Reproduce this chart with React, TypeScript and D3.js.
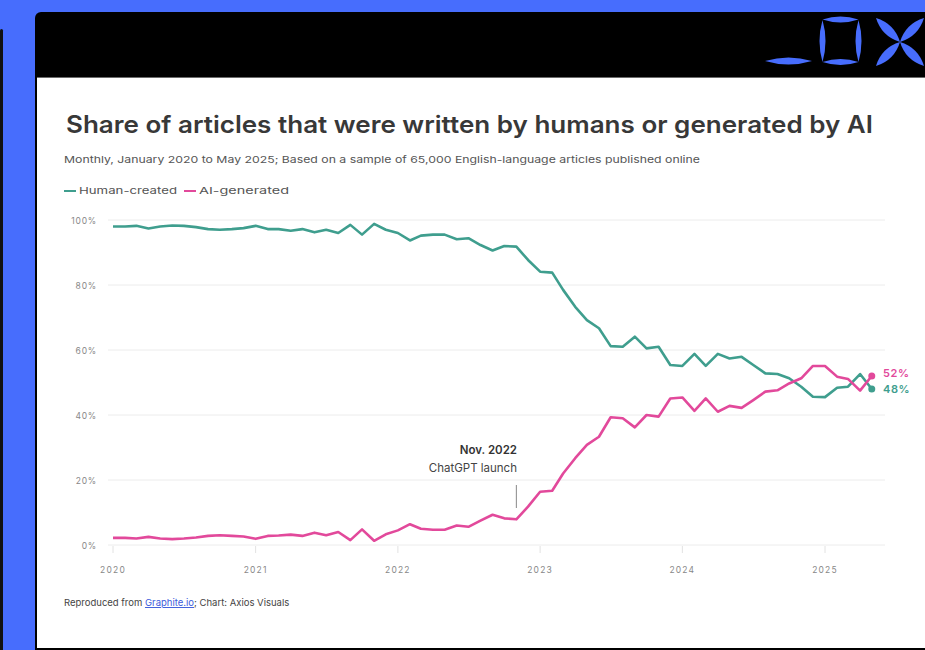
import React from "react";
import * as d3 from "d3";

// ---- Data ----
const startYear = 2020; // monthly series, January 2020 .. May 2025
const humanShare: number[] = [
  98.0, 98.0, 98.2, 97.4, 98.0, 98.3, 98.2, 97.8, 97.2, 97.0,
  97.2, 97.5, 98.2, 97.2, 97.2, 96.7, 97.2, 96.2, 97.0, 96.0,
  98.5, 95.5, 98.8, 97.0, 96.0, 93.7, 95.2, 95.5, 95.5, 94.1,
  94.4, 92.3, 90.6, 92.0, 91.8, 87.7, 84.1, 83.8, 78.5, 73.3,
  69.2, 66.7, 61.2, 61.0, 64.1, 60.5, 61.0, 55.4, 55.1, 58.8,
  55.1, 58.8, 57.4, 57.9, 55.4, 52.8, 52.6, 51.3, 48.7, 45.6,
  45.5, 48.4, 48.7, 52.6, 48.0,
];
const aiShare: number[] = [
  2.2, 2.2, 2.0, 2.5, 2.0, 1.8, 2.0, 2.3, 2.8, 3.0,
  2.8, 2.6, 1.9, 2.8, 2.9, 3.2, 2.8, 3.8, 3.0, 4.0,
  1.5, 4.8, 1.3, 3.3, 4.5, 6.4, 5.0, 4.7, 4.7, 6.0,
  5.6, 7.5, 9.3, 8.2, 7.9, 11.8, 16.4, 16.7, 22.0, 26.7,
  30.8, 33.3, 39.3, 39.0, 36.2, 40.0, 39.5, 45.1, 45.4, 41.3,
  45.1, 41.0, 42.8, 42.2, 44.6, 47.2, 47.6, 49.7, 51.3, 55.1,
  55.1, 51.8, 51.1, 47.5, 52.0,
];
const yTicks = [0, 20, 40, 60, 80, 100];
const yearTicks = [2020, 2021, 2022, 2023, 2024, 2025];
const seriesNames = ["Human-created", "AI-generated"];
const endLabels = ["48%", "52%"];
const annotationMonth = { year: 2022, month: 10 };
const annotationLines = ["Nov. 2022", "ChatGPT launch"];

const TEAL = "#3f9e8e";
const PINK = "#e2499b";
const BLUE = "#476dfd";
const FONT = "Inter, 'Open Sans', sans-serif";

function lens(key: string, cx: number, cy: number, len: number, thick: number, angle: number) {
  const h = len / 2;
  return (
    <path
      key={key}
      d={`M${-h},0 Q0,${-thick} ${h},0 Q0,${thick} ${-h},0 Z`}
      transform={`translate(${cx},${cy}) rotate(${angle})`}
      fill={BLUE}
    />
  );
}

export default function App() {
  const dates = humanShare.map((_, i) => new Date(startYear, i, 1));
  const x = d3
    .scaleTime()
    .domain([new Date(2020, 0, 1), new Date(2025, 0, 1)])
    .range([113, 825]);
  const y = d3.scaleLinear().domain([0, 100]).range([545, 220]);
  const line = d3
    .line<number>()
    .x((_, i) => x(dates[i]))
    .y((d) => y(d))
    .curve(d3.curveLinear);

  const last = dates.length - 1;
  const lx = x(dates[last]);
  const annX = x(new Date(annotationMonth.year, annotationMonth.month, 1));

  // X glyph petals: from center to each corner
  const xc = { x: 900, y: 42 };
  const corners = [
    [876, 18],
    [924, 18],
    [876, 66],
    [924, 66],
  ];

  return (
    <svg
      width={925}
      height={650}
      style={{ position: "absolute", left: 0, top: 0, display: "block" }}
    >
      <rect x={0} y={0} width={925} height={650} fill={BLUE} />
      <rect x={0} y={29} width={3} height={640} rx={1.5} fill="#111" />
      {/* card */}
      <rect x={35} y={12} width={920} height={660} rx={6} fill="#000" />
      <rect x={37} y={78} width={900} height={570} fill="#fff" />
      <line x1={37} x2={925} y1={77.5} y2={77.5} stroke="#6b6b6b" strokeWidth={1} />

      {/* window controls logo */}
      {lens("u", 788.5, 61, 47, 7, 0)}
      {lens("bt", 840.5, 19.5, 36, 6, 0)}
      {lens("bb", 840.5, 62, 36, 6, 0)}
      {lens("bl", 822.5, 41, 42, 6, 90)}
      {lens("br", 858.5, 41, 42, 6, 90)}
      {corners.map(([cx, cy], i) => {
        const mx = (cx + xc.x) / 2;
        const my = (cy + xc.y) / 2;
        const len = Math.hypot(cx - xc.x, cy - xc.y);
        const ang = (Math.atan2(cy - xc.y, cx - xc.x) * 180) / Math.PI;
        return lens("x" + i, mx, my, len, 9, ang);
      })}

      {/* title */}
      <text
        x={66}
        y={133}
        fontFamily={FONT}
        fontSize={24}
        fontWeight={600}
        fill="#383838"
        textLength={807}
        lengthAdjust="spacingAndGlyphs"
      >
        Share of articles that were written by humans or generated by AI
      </text>
      <text
        x={64}
        y={163}
        fontFamily={FONT}
        fontSize={9.5}
        fill="#555"
        textLength={636}
        lengthAdjust="spacingAndGlyphs"
      >
        Monthly, January 2020 to May 2025; Based on a sample of 65,000 English-language articles published online
      </text>

      {/* legend */}
      <line x1={64} x2={76} y1={191} y2={191} stroke={TEAL} strokeWidth={2} />
      <text x={79} y={194} fontFamily={FONT} fontSize={9.5} fill="#555" textLength={98} lengthAdjust="spacingAndGlyphs">
        {seriesNames[0]}
      </text>
      <line x1={184} x2={196} y1={191} y2={191} stroke={PINK} strokeWidth={2} />
      <text x={199} y={194} fontFamily={FONT} fontSize={9.5} fill="#555" textLength={90} lengthAdjust="spacingAndGlyphs">
        {seriesNames[1]}
      </text>

      {/* grid + y labels */}
      {yTicks.map((t) => (
        <g key={t}>
          <line x1={108} x2={885} y1={y(t)} y2={y(t)} stroke="#ececec" strokeWidth={1} />
          <text
            x={97}
            y={y(t) + 3.5}
            textAnchor="end"
            fontFamily={FONT}
            fontSize={8.5}
            letterSpacing={0.8}
            fill="#888"
          >
            {t}%
          </text>
        </g>
      ))}

      {/* x ticks + labels */}
      {yearTicks.map((yr) => {
        const px = x(new Date(yr, 0, 1));
        return (
          <g key={yr}>
            <line x1={px} x2={px} y1={546} y2={553} stroke="#e2e2e2" strokeWidth={1} />
            <text
              x={px}
              y={573}
              textAnchor="middle"
              fontFamily={FONT}
              fontSize={8.5}
              letterSpacing={1.2}
              fill="#888"
            >
              {yr}
            </text>
          </g>
        );
      })}

      {/* annotation */}
      <text x={517} y={454} textAnchor="end" fontFamily={FONT} fontSize={11.5} fontWeight={600} fill="#333">
        {annotationLines[0]}
      </text>
      <text x={517} y={472} textAnchor="end" fontFamily={FONT} fontSize={11.5} fill="#444">
        {annotationLines[1]}
      </text>
      <line x1={annX} x2={annX} y1={485} y2={508} stroke="#888" strokeWidth={1} />

      {/* lines */}
      <path d={line(humanShare) || ""} fill="none" stroke={TEAL} strokeWidth={2.6} strokeLinejoin="round" />
      <path d={line(aiShare) || ""} fill="none" stroke={PINK} strokeWidth={2.6} strokeLinejoin="round" />

      {/* end dots + labels */}
      <circle cx={lx} cy={y(humanShare[last])} r={3.5} fill={TEAL} />
      <circle cx={lx} cy={y(aiShare[last])} r={3.5} fill={PINK} />
      <text x={883} y={y(aiShare[last]) + 1} fontFamily={FONT} fontSize={11} fontWeight={600} letterSpacing={0.6} fill={PINK}>
        {endLabels[1]}
      </text>
      <text x={883} y={y(humanShare[last]) + 4} fontFamily={FONT} fontSize={11} fontWeight={600} letterSpacing={0.6} fill={TEAL}>
        {endLabels[0]}
      </text>

      {/* footer */}
      <text x={64} y={606} fontFamily={FONT} fontSize={9.5} fill="#444">
        <tspan>Reproduced from </tspan>
        <tspan fill="#3b5bdb" textDecoration="underline">Graphite.io</tspan>
        <tspan>; Chart: Axios Visuals</tspan>
      </text>
    </svg>
  );
}
